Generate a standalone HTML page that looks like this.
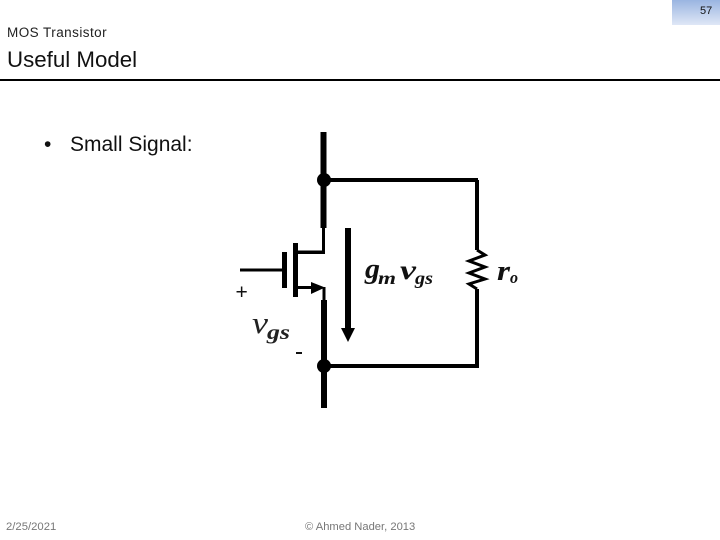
<!DOCTYPE html>
<html><head><meta charset="utf-8"><style>
html,body{margin:0;padding:0;background:#fff}
#s{position:relative;width:720px;height:540px;overflow:hidden;background:#fff;font-family:"Liberation Sans",sans-serif}
.t{position:absolute;white-space:nowrap;line-height:1}
svg{position:absolute;left:0;top:0}
</style></head><body><div id="s">
<div style="position:absolute;left:672px;top:0;width:48px;height:25px;background:linear-gradient(#9ab5e1,#dfe7f6)"></div>
<div class="t" style="left:700px;top:6px;font-size:11px;color:#111;">57</div>
<div class="t" style="left:7px;top:26px;font-size:13.500px;color:#222;letter-spacing:.45px">MOS Transistor</div>
<div class="t" style="left:7px;top:49px;font-size:22.300px;color:#111">Useful Model</div>
<div style="position:absolute;left:0;top:79px;width:720px;height:2px;background:#000"></div>
<div class="t" style="left:44px;top:134px;font-size:21px;color:#111">•</div>
<div class="t" style="left:70px;top:134px;font-size:21px;color:#111">Small Signal:</div>
<svg width="720" height="540" viewBox="0 0 720 540">
<g fill="#000">
<rect x="320.500" y="132" width="6" height="96"/>
<circle cx="324" cy="180" r="7"/>
<rect x="324" y="178" width="154" height="4"/>
<rect x="322" y="228" width="3" height="25"/>
<rect x="297" y="250.500" width="28" height="3.500"/>
<rect x="293" y="243" width="5" height="54"/>
<rect x="282" y="252" width="5" height="36"/>
<rect x="240" y="268.500" width="42" height="3"/>
<rect x="298" y="286" width="14" height="3"/>
<polygon points="311,282 325,287.500 311,294"/>
<rect x="322.500" y="287" width="3" height="14"/>
<rect x="321" y="300" width="6" height="108"/>
<circle cx="324" cy="366" r="7"/>
<rect x="324" y="364" width="154" height="4"/>
<rect x="345" y="228" width="6" height="101"/>
<polygon points="341,328 355,328 348,342"/>
<rect x="475" y="180" width="4" height="70"/>
<rect x="475" y="289" width="4" height="79"/>
</g>
<polyline points="477,250 485,255 469,261 485,267 469,273 485,279 469,284 477,289" fill="none" stroke="#000" stroke-width="3"/>
<g fill="#111" font-family="'Liberation Serif',serif" font-weight="bold" font-style="italic">
<text x="365" y="278" font-size="28" textLength="15" lengthAdjust="spacingAndGlyphs">g</text>
<text x="378" y="284" font-size="18" textLength="18" lengthAdjust="spacingAndGlyphs">m</text>
<text x="400" y="279" font-size="27" textLength="16" lengthAdjust="spacingAndGlyphs">v</text>
<text x="415" y="284" font-size="18" textLength="18" lengthAdjust="spacingAndGlyphs">gs</text>
<text x="497" y="280" font-size="28" textLength="13" lengthAdjust="spacingAndGlyphs">r</text>
<text x="510" y="283" font-size="17" textLength="8" lengthAdjust="spacingAndGlyphs">o</text>
</g>
<g fill="#222" font-family="'Liberation Serif',serif" font-style="italic">
<text x="252" y="333" font-size="31" textLength="16" lengthAdjust="spacingAndGlyphs">v</text>
</g>
<g fill="#222" font-family="'Liberation Serif',serif" font-style="italic" font-weight="bold">
<text x="267" y="339" font-size="20" textLength="23" lengthAdjust="spacingAndGlyphs">gs</text>
</g>
<text x="235.500" y="299" font-size="21" fill="#111" font-family="'Liberation Sans',sans-serif">+</text>
<rect x="296" y="352" width="6" height="2" fill="#111"/>
</svg>
<div class="t" style="left:6px;top:522px;font-size:11.300px;color:#777">2/25/2021</div>
<div class="t" style="left:305px;top:522px;font-size:11.200px;color:#777">© Ahmed Nader, 2013</div>
</div></body></html>
